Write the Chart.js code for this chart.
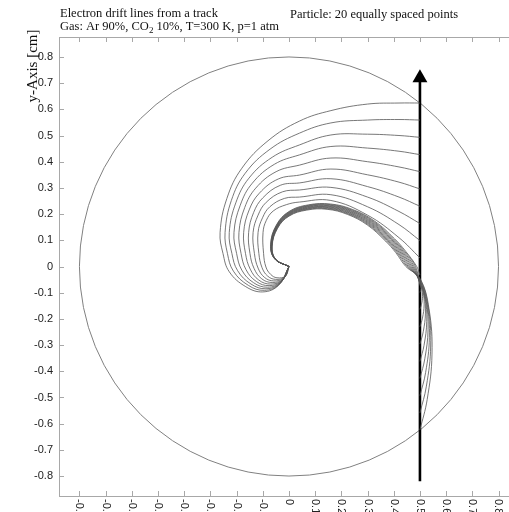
<!DOCTYPE html>
<html>
<head>
<meta charset="utf-8">
<script src="https://cdn.jsdelivr.net/npm/chart.js@4.4.0/dist/chart.umd.min.js"></script>
<style>
  html, body { margin: 0; padding: 0; background: #fff; overflow: hidden; }
  canvas { display: block; }
</style>
</head>
<body>
<canvas id="drift" width="509" height="512"></canvas>
<script>
// axis ticks
const xTicks = [-0.8, -0.7, -0.6, -0.5, -0.4, -0.3, -0.2, -0.1, 0, 0.1, 0.2, 0.3, 0.4, 0.5, 0.6, 0.7, 0.8];
const yTicks = [-0.8, -0.7, -0.6, -0.5, -0.4, -0.3, -0.2, -0.1, 0, 0.1, 0.2, 0.3, 0.4, 0.5, 0.6, 0.7, 0.8];

// tube wall and track
const tubeRadius = 0.8;
const trackX = [0.5, 0.5];
const trackY = [-0.82, 0.72];

// upper drift lines (start above the wire), read station by station
const upperStartY = [0.624, 0.559, 0.493, 0.427, 0.362, 0.296, 0.230, 0.164, 0.099, 0.033];
const upperY042 = [0.624, 0.561, 0.500, 0.440, 0.380, 0.322, 0.265, 0.210, 0.160, 0.110];
const upperY030 = [0.620, 0.559, 0.505, 0.452, 0.400, 0.350, 0.305, 0.265, 0.228, 0.196];
const upperY016 = [0.595, 0.548, 0.502, 0.458, 0.414, 0.372, 0.335, 0.302, 0.274, 0.252];
const upperY004 = [0.555, 0.509, 0.464, 0.426, 0.387, 0.349, 0.319, 0.292, 0.265, 0.246];
const upperArcX = [-0.080, -0.072, -0.064, -0.056, -0.049, -0.041, -0.033, -0.025, -0.017, -0.010];
const upperArcY = [0.480, 0.448, 0.417, 0.390, 0.362, 0.334, 0.310, 0.285, 0.260, 0.236];
const upperDiagX = [-0.180, -0.167, -0.153, -0.140, -0.127, -0.113, -0.100, -0.087, -0.073, -0.060];
const upperDiagY = [0.375, 0.356, 0.337, 0.318, 0.299, 0.280, 0.262, 0.245, 0.228, 0.212];
const upperSideX = [-0.237, -0.220, -0.203, -0.186, -0.169, -0.152, -0.135, -0.118, -0.101, -0.087];
const upperSideY = [0.260, 0.252, 0.243, 0.234, 0.225, 0.216, 0.206, 0.196, 0.186, 0.175];
const upperLeftX = [-0.263, -0.244, -0.228, -0.210, -0.191, -0.173, -0.154, -0.137, -0.118, -0.099];
const upperMidX = [-0.252, -0.235, -0.218, -0.200, -0.183, -0.166, -0.149, -0.132, -0.115, -0.097];
const upperLowX = [-0.228, -0.212, -0.196, -0.180, -0.164, -0.148, -0.133, -0.118, -0.103, -0.088];
const upperLowY = [-0.020, -0.018, -0.016, -0.014, -0.012, -0.010, -0.008, -0.006, -0.004, -0.002];
const upperTurnX = [-0.165, -0.155, -0.145, -0.135, -0.125, -0.115, -0.104, -0.093, -0.082, -0.070];
const upperTurnY = [-0.077, -0.072, -0.067, -0.062, -0.057, -0.052, -0.047, -0.042, -0.036, -0.030];
const upperBottomX = [-0.100, -0.094, -0.088, -0.082, -0.076, -0.070, -0.064, -0.058, -0.052, -0.046];
const upperBottomY = [-0.097, -0.091, -0.085, -0.079, -0.073, -0.067, -0.061, -0.055, -0.049, -0.043];
const upperNearX = [-0.040, -0.037, -0.034, -0.031, -0.028, -0.025, -0.022, -0.019, -0.016, -0.013];
const upperNearY = [-0.072, -0.068, -0.064, -0.060, -0.056, -0.052, -0.048, -0.044, -0.040, -0.036];

// lower drift lines (start below the wire), bulge right then join the bundle
const lowerLines = [
  [[0.5,-0.033],[0.4876,0],[0.4452,0.0583],[0.4028,0.106],[0.3275,0.1728],[0.2438,0.2173],[0.159,0.2385],[0.0742,0.2353],[0,0.2099],[-0.0477,0.159],[-0.07,0.0848],[-0.0551,0.0297],[0,0]],
  [[0.5,-0.099],[0.504,-0.085],[0.5,-0.07],[0.483,0],[0.441,0.0578],[0.399,0.105],[0.3245,0.1712],[0.2415,0.2153],[0.1575,0.2363],[0.0735,0.2331],[0,0.2079],[-0.0473,0.1575],[-0.0693,0.084],[-0.0546,0.0294],[0,0]],
  [[0.5,-0.164],[0.506,-0.144],[0.51,-0.115],[0.5075,-0.086],[0.5,-0.066],[0.4784,0],[0.4368,0.0572],[0.3952,0.104],[0.3214,0.1695],[0.2392,0.2132],[0.156,0.234],[0.0728,0.2309],[0,0.2059],[-0.0468,0.156],[-0.0686,0.0832],[-0.0541,0.0291],[0,0]],
  [[0.5,-0.23],[0.5096,-0.197],[0.516,-0.1465],[0.512,-0.0966],[0.5,-0.063],[0.4738,0],[0.4326,0.0567],[0.3914,0.103],[0.3183,0.1679],[0.2369,0.2112],[0.1545,0.2318],[0.0721,0.2287],[0,0.2039],[-0.0464,0.1545],[-0.068,0.0824],[-0.0536,0.0288],[0,0]],
  [[0.5,-0.296],[0.5126,-0.249],[0.521,-0.178],[0.5158,-0.107],[0.5,-0.06],[0.4692,0],[0.4284,0.0561],[0.3876,0.102],[0.3152,0.1663],[0.2346,0.2091],[0.153,0.2295],[0.0714,0.2264],[0,0.202],[-0.0459,0.153],[-0.0673,0.0816],[-0.053,0.0286],[0,0]],
  [[0.5,-0.362],[0.5156,-0.301],[0.526,-0.2095],[0.5195,-0.118],[0.5,-0.057],[0.4646,0],[0.4242,0.0556],[0.3838,0.101],[0.3121,0.1646],[0.2323,0.2071],[0.1515,0.2273],[0.0707,0.2242],[0,0.2],[-0.0455,0.1515],[-0.0667,0.0808],[-0.0525,0.0283],[0,0]],
  [[0.5,-0.427],[0.5186,-0.352],[0.531,-0.2405],[0.5233,-0.1286],[0.5,-0.054],[0.46,0],[0.42,0.055],[0.38,0.1],[0.309,0.163],[0.23,0.205],[0.15,0.225],[0.07,0.222],[0,0.198],[-0.045,0.15],[-0.066,0.08],[-0.052,0.028],[0,0]],
  [[0.5,-0.493],[0.5216,-0.405],[0.536,-0.272],[0.527,-0.139],[0.5,-0.051],[0.4554,0],[0.4158,0.0545],[0.3762,0.099],[0.3059,0.1614],[0.2277,0.203],[0.1485,0.2228],[0.0693,0.2198],[0,0.196],[-0.0446,0.1485],[-0.0653,0.0792],[-0.0515,0.0277],[0,0]],
  [[0.5,-0.559],[0.5246,-0.457],[0.541,-0.3035],[0.531,-0.15],[0.5,-0.048],[0.4508,0],[0.4116,0.0539],[0.3724,0.098],[0.3028,0.1597],[0.2254,0.2009],[0.147,0.2205],[0.0686,0.2176],[0,0.194],[-0.0441,0.147],[-0.0647,0.0784],[-0.051,0.0274],[0,0]],
  [[0.5,-0.624],[0.5276,-0.508],[0.546,-0.3345],[0.5345,-0.161],[0.5,-0.045],[0.4462,0],[0.4074,0.0534],[0.3686,0.097],[0.2997,0.1581],[0.2231,0.1989],[0.1455,0.2183],[0.0679,0.2153],[0,0.1921],[-0.0437,0.1455],[-0.064,0.0776],[-0.0504,0.0272],[0,0]]
];

// build the upper lines from the stations
const upperLines = upperStartY.map((s, i) => [
  [0.5, s], [0.42, upperY042[i]], [0.3, upperY030[i]], [0.16, upperY016[i]], [0.04, upperY004[i]],
  [upperArcX[i], upperArcY[i]], [upperDiagX[i], upperDiagY[i]], [upperSideX[i], upperSideY[i]],
  [upperLeftX[i], 0.13], [upperMidX[i], 0.05], [upperLowX[i], upperLowY[i]],
  [upperTurnX[i], upperTurnY[i]], [upperBottomX[i], upperBottomY[i]], [upperNearX[i], upperNearY[i]], [0, 0]
]);

const lineColor = '#555555';
const driftSets = upperLines.concat(lowerLines).map(pts => ({
  data: pts.map(([x, y]) => ({ x, y })),
  showLine: true,
  pointRadius: 0,
  borderColor: lineColor,
  borderWidth: 0.8,
  tension: 0.4
}));

const trackSet = {
  data: trackX.map((x, i) => ({ x, y: trackY[i] })),
  showLine: true,
  borderColor: '#000',
  borderWidth: 2.6,
  pointStyle: 'triangle',
  pointRadius: [0, 8.6],
  pointBackgroundColor: '#000',
  pointBorderColor: '#000',
  pointBorderWidth: 0,
  tension: 0
};

const fmt = v => (Math.abs(v) < 1e-9 ? '0' : v.toFixed(1));
const axisGray = '#a8a8a8';

const decor = {
  id: 'decor',
  beforeDatasetsDraw(chart) {
    const { ctx, scales: { x, y } } = chart;
    const cx = x.getPixelForValue(0), cy = y.getPixelForValue(0);
    const r = x.getPixelForValue(tubeRadius) - cx;
    ctx.save();
    ctx.strokeStyle = '#808080';
    ctx.lineWidth = 1;
    ctx.beginPath();
    ctx.arc(cx, cy, r, 0, Math.PI * 2);
    ctx.stroke();
    ctx.restore();
  },
  afterDraw(chart) {
    const { ctx, chartArea: a, scales: { x, y } } = chart;
    ctx.save();
    // top frame line
    ctx.strokeStyle = axisGray;
    ctx.lineWidth = 1;
    ctx.beginPath();
    ctx.moveTo(a.left, a.top + 0.5);
    ctx.lineTo(a.right, a.top + 0.5);
    ctx.stroke();
    // inward ticks
    ctx.beginPath();
    xTicks.forEach(v => {
      const px = Math.round(x.getPixelForValue(v)) + 0.5;
      ctx.moveTo(px, a.bottom); ctx.lineTo(px, a.bottom - 5);
      ctx.moveTo(px, a.top); ctx.lineTo(px, a.top + 5);
    });
    yTicks.forEach(v => {
      const py = Math.round(y.getPixelForValue(v)) + 0.5;
      ctx.moveTo(a.left, py); ctx.lineTo(a.left + 5, py);
    });
    ctx.stroke();
    // rotated x tick labels, running downward off the picture
    ctx.fillStyle = '#222';
    ctx.font = '11px "Liberation Sans"';
    ctx.textAlign = 'left';
    ctx.textBaseline = 'middle';
    xTicks.forEach(v => {
      ctx.save();
      ctx.translate(x.getPixelForValue(v), a.bottom + 3);
      ctx.rotate(Math.PI / 2);
      ctx.fillText(fmt(v), 0, 0);
      ctx.restore();
    });
    // titles
    ctx.fillStyle = '#111';
    ctx.textBaseline = 'alphabetic';
    ctx.font = '12.5px "Liberation Serif"';
    ctx.fillText('Electron drift lines from a track', 60, 17);
    ctx.fillText('Particle: 20 equally spaced points', 290, 18);
    let gx = 60;
    const part1 = 'Gas: Ar 90%, CO';
    ctx.fillText(part1, gx, 30);
    gx += ctx.measureText(part1).width;
    ctx.font = '9px "Liberation Serif"';
    ctx.fillText('2', gx, 33);
    gx += ctx.measureText('2').width;
    ctx.font = '12.5px "Liberation Serif"';
    ctx.fillText(' 10%, T=300 K, p=1 atm', gx, 30);
    // y axis title
    ctx.save();
    ctx.translate(37, 66);
    ctx.rotate(-Math.PI / 2);
    ctx.textAlign = 'center';
    ctx.font = '15px "Liberation Serif"';
    ctx.fillText('y-Axis [cm]', 0, 0);
    ctx.restore();
    ctx.restore();
  }
};

new Chart(document.getElementById('drift'), {
  type: 'scatter',
  data: { datasets: driftSets.concat([trackSet]) },
  options: {
    responsive: false,
    animation: false,
    devicePixelRatio: 1,
    layout: { autoPadding: false, padding: { top: 37, left: 0, right: 0, bottom: 0 } },
    plugins: { legend: { display: false }, tooltip: { enabled: false }, title: { display: false } },
    scales: {
      x: {
        type: 'linear',
        min: -0.878,
        max: 0.84,
        grid: { display: false, drawTicks: false },
        border: { display: true, color: axisGray, width: 1 },
        ticks: { display: false },
        afterBuildTicks: s => { s.ticks = xTicks.map(v => ({ value: v })); },
        afterFit: s => { s.height = 16; }
      },
      y: {
        type: 'linear',
        min: -0.876,
        max: 0.876,
        grid: { display: false, drawTicks: false },
        border: { display: true, color: axisGray, width: 1 },
        ticks: {
          padding: 6,
          color: '#222',
          font: { family: '"Liberation Sans"', size: 11 },
          callback: v => fmt(v)
        },
        afterBuildTicks: s => { s.ticks = yTicks.map(v => ({ value: v })); },
        afterFit: s => { s.width = 59; }
      }
    }
  },
  plugins: [decor]
});
</script>
</body>
</html>
